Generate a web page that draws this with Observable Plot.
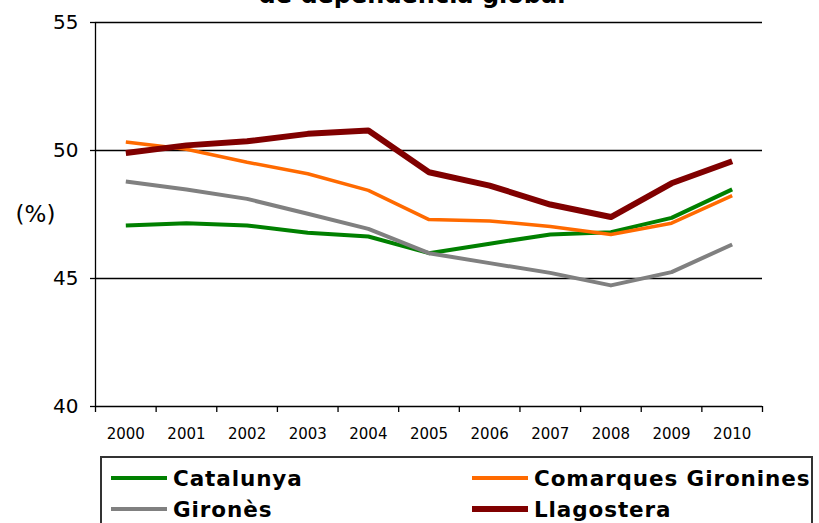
<!DOCTYPE html>
<html>
<head>
<meta charset="utf-8">
<script src="https://cdn.jsdelivr.net/npm/d3@7"></script>
<script src="https://cdn.jsdelivr.net/npm/@observablehq/plot@0.6"></script>
<style>
  html, body { margin: 0; padding: 0; background: #fff; }
  body { width: 819px; height: 523px; overflow: hidden; position: relative; font-family: "DejaVu Sans", Verdana, sans-serif; }
  #title { position: absolute; left: 0; width: 824px; top: -19px; text-align: center; font-weight: bold; font-size: 24px; line-height: 28px; color: #000; white-space: nowrap; }
  #chart { position: absolute; left: 0; top: 0; }
  #legend { position: absolute; left: 100px; top: 456px; width: 713px; height: 80px; border: 2px solid #333; box-sizing: border-box; }
  .item { position: absolute; display: flex; align-items: center; font-weight: bold; font-size: 21.5px; letter-spacing: 0.9px; color: #000; white-space: nowrap; }
  .swatch { width: 56px; margin-right: 6px; }
</style>
</head>
<body>
<div id="title">de dependència global</div>
<div id="chart"></div>
<div id="legend"></div>
<script>
const years = [2000, 2001, 2002, 2003, 2004, 2005, 2006, 2007, 2008, 2009, 2010];
const catalunya = [47.07, 47.16, 47.07, 46.79, 46.64, 45.99, 46.36, 46.72, 46.81, 47.37, 48.48];
const comarques = [50.33, 50.05, 49.54, 49.09, 48.44, 47.30, 47.25, 47.03, 46.72, 47.16, 48.24];
const girones   = [48.79, 48.48, 48.11, 47.53, 46.94, 45.99, 45.60, 45.22, 44.73, 45.25, 46.33];
const llagostera= [49.90, 50.20, 50.36, 50.65, 50.78, 49.15, 48.63, 47.89, 47.40, 48.72, 49.58];
const yTicks = [40, 45, 50, 55];
const gridLines = [45, 50, 55];

const seriesNames = ["Catalunya", "Comarques Gironines", "Gironès", "Llagostera"];
const seriesValues = [catalunya, comarques, girones, llagostera];
const seriesColors = ["#008000", "#ff6a00", "#808080", "#800000"];
const seriesWidths = [4, 3.5, 4, 6];

const boundaries = [...years.map(y => y - 0.5), years[years.length - 1] + 0.5];

const lineMarks = seriesNames.map((name, i) =>
  Plot.line(years.map((yr, j) => ({year: yr, value: seriesValues[i][j]})), {
    x: "year", y: "value", stroke: seriesColors[i], strokeWidth: seriesWidths[i],
    strokeLinejoin: "round", strokeLinecap: "butt"
  })
);

const chart = Plot.plot({
  width: 819,
  height: 452,
  marginLeft: 95,
  marginRight: 57,
  marginTop: 22,
  marginBottom: 46,
  style: {fontFamily: "DejaVu Sans, Verdana, sans-serif", background: "transparent", overflow: "visible"},
  x: {type: "linear", domain: [boundaries[0], boundaries[boundaries.length - 1]]},
  y: {domain: [40, 55]},
  marks: [
    Plot.ruleY(gridLines, {stroke: "#000", strokeWidth: 1.3}),
    ...lineMarks,
    Plot.ruleY([40], {stroke: "#000", strokeWidth: 1.3}),
    Plot.ruleX([boundaries[0]], {stroke: "#000", strokeWidth: 1.3}),
    Plot.axisY({ticks: yTicks, tickSize: 5, tickPadding: 12, fontSize: 20, label: null, stroke: "#000", strokeWidth: 1.3, color: "#000"}),
    Plot.axisX({ticks: boundaries, tickSize: 6, tickFormat: () => "", label: null, strokeWidth: 1.3}),
    Plot.axisX({ticks: years, tickSize: 0, tickPadding: 22, tickFormat: d => String(d), fontSize: 15, label: null}),
    Plot.text(["(%)"], {frameAnchor: "left", dx: -60, text: d => d, fontSize: 23, textAnchor: "middle", fill: "#000"})
  ]
});
document.getElementById("chart").appendChild(chart);

// legend
const legend = document.getElementById("legend");
const positions = [[9, 20], [370, 20], [9, 51], [370, 51]];
seriesNames.forEach((name, i) => {
  const item = document.createElement("div");
  item.className = "item";
  item.style.left = positions[i][0] + "px";
  item.style.top = (positions[i][1] - 14) + "px";
  item.style.height = "28px";
  const sw = document.createElement("div");
  sw.className = "swatch";
  sw.style.height = (i === 3 ? 6 : 4) + "px";
  sw.style.background = seriesColors[i];
  const label = document.createElement("span");
  label.textContent = name;
  item.appendChild(sw);
  item.appendChild(label);
  legend.appendChild(item);
});
</script>
</body>
</html>
